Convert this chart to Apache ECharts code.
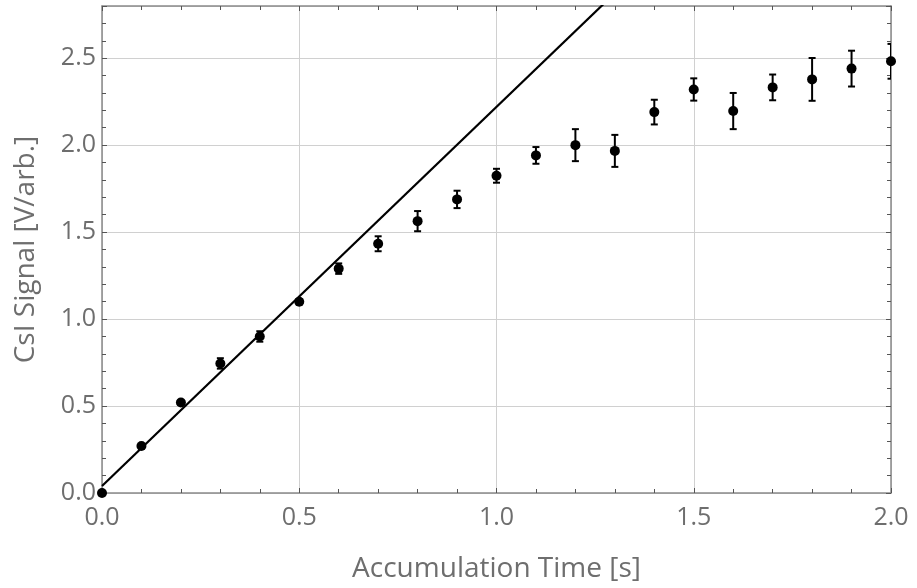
<!DOCTYPE html>
<html>
<head>
<meta charset="utf-8">
<script src="https://cdn.jsdelivr.net/npm/echarts@6/dist/echarts.min.js"></script>
<style>html,body{margin:0;padding:0;background:#fff;}#c{width:917px;height:588px;}</style>
</head>
<body>
<div id="c"></div>
<script>
// Data
const timeValues = [0.0, 0.1, 0.2, 0.3, 0.4, 0.5, 0.6, 0.7, 0.8, 0.9, 1.0, 1.1, 1.2, 1.3, 1.4, 1.5, 1.6, 1.7, 1.8, 1.9, 2.0];
const signalValues = [0.0, 0.27, 0.52, 0.745, 0.90, 1.10, 1.29, 1.433, 1.563, 1.688, 1.824, 1.941, 2.0, 1.967, 2.19, 2.32, 2.196, 2.332, 2.378, 2.44, 2.482];
const signalErrors = [0.0, 0.012, 0.012, 0.03, 0.03, 0.015, 0.03, 0.043, 0.058, 0.05, 0.04, 0.048, 0.092, 0.092, 0.071, 0.064, 0.104, 0.074, 0.123, 0.103, 0.10];
const fitLineX = [0.0, 2.0];
const fitLineY = [0.04, 4.40];
const xTickLabels = ['0.0', '0.5', '1.0', '1.5', '2.0'];
const yTickLabels = ['0.0', '0.5', '1.0', '1.5', '2.0', '2.5'];

const font = 'Open Sans';
const pts = timeValues.map((t, i) => [t, signalValues[i]]);
const errs = timeValues.map((t, i) => [t, signalValues[i] - signalErrors[i], signalValues[i] + signalErrors[i]]);
const fit = fitLineX.map((x, i) => [x, fitLineY[i]]);

const chart = echarts.init(document.getElementById('c'), null, {renderer: 'canvas'});
const frame = '#8a8a8a';
const txt = '#6e6e6e';
const baseAxis = {
  type: 'value', min: 0, interval: 0.5,
  axisLine: {show: true, onZero: false, lineStyle: {color: frame, width: 1.5}},
  axisTick: {show: true, inside: true, length: 5, lineStyle: {color: '#555', width: 1}},
  minorTick: {show: true, splitNumber: 5, length: 4, lineStyle: {color: '#555', width: 1}},
};
chart.setOption({
  animation: false,
  grid: {left: 102, right: 26, top: 6, bottom: 95, containLabel: false, outerBoundsMode: 'none'},
  xAxis: [
    Object.assign({}, baseAxis, {
      max: 2.0, position: 'bottom',
      name: 'Accumulation Time [s]', nameLocation: 'middle', nameGap: 62,
      nameTextStyle: {color: txt, fontFamily: font, fontSize: 28},
      axisLabel: {color: txt, fontFamily: font, fontSize: 25, margin: 12,
        formatter: v => xTickLabels.find(s => parseFloat(s) === v) || ''},
      splitLine: {show: true, lineStyle: {color: '#d0d0d0', width: 1}}
    }),
    Object.assign({}, baseAxis, {
      max: 2.0, position: 'top', axisLabel: {show: false}, splitLine: {show: false}
    })
  ],
  yAxis: [
    Object.assign({}, baseAxis, {
      max: 2.8, position: 'left',
      name: 'CsI Signal [V/arb.]', nameLocation: 'middle', nameGap: 62,
      nameTextStyle: {color: txt, fontFamily: font, fontSize: 28},
      axisLabel: {color: txt, fontFamily: font, fontSize: 25, margin: 6, showMaxLabel: false,
        formatter: v => yTickLabels.find(s => parseFloat(s) === v) || ''},
      splitLine: {show: true, lineStyle: {color: '#d0d0d0', width: 1}}
    }),
    Object.assign({}, baseAxis, {
      max: 2.8, position: 'right', axisLabel: {show: false}, splitLine: {show: false}
    })
  ],
  series: [
    {type: 'line', data: fit, showSymbol: false, clip: true, lineStyle: {color: '#000', width: 2.2}, z: 3},
    {type: 'custom', data: errs, clip: true, z: 4,
      renderItem: function (params, api) {
        const x = api.value(0);
        const lo = api.coord([x, api.value(1)]);
        const hi = api.coord([x, api.value(2)]);
        if (Math.abs(hi[1] - lo[1]) < 1) return null;
        const w = 3.5;
        const st = {stroke: '#000', lineWidth: 2};
        return {type: 'group', children: [
          {type: 'line', shape: {x1: lo[0], y1: lo[1], x2: hi[0], y2: hi[1]}, style: st},
          {type: 'line', shape: {x1: lo[0] - w, y1: lo[1], x2: lo[0] + w, y2: lo[1]}, style: st},
          {type: 'line', shape: {x1: hi[0] - w, y1: hi[1], x2: hi[0] + w, y2: hi[1]}, style: st}
        ]};
      }
    },
    {type: 'scatter', data: pts, symbol: 'circle', symbolSize: 10, clip: true, itemStyle: {color: '#000', opacity: 1}, z: 5}
  ]
});
</script>
</body>
</html>
